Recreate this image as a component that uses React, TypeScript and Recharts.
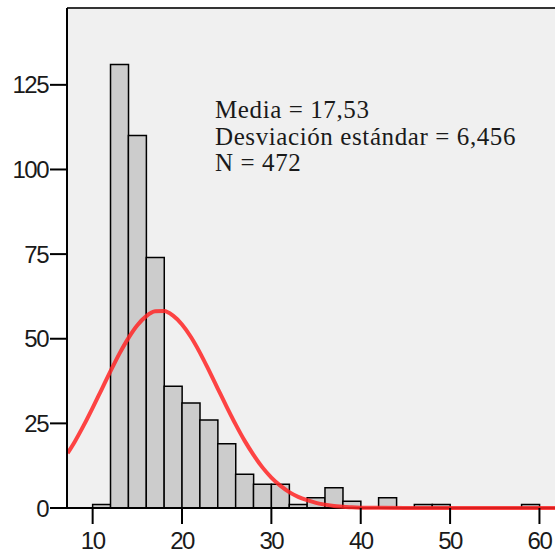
import React from "react";
import {
  Bar,
  CartesianGrid,
  ComposedChart,
  Line,
  ReferenceLine,
  XAxis,
  YAxis,
} from "recharts";

// Histogram bins (width 2): bin centre and count.
const BIN_MID = [11, 13, 15, 17, 19, 21, 23, 25, 27, 29, 31, 33, 35, 37, 39, 41, 43, 45, 47, 49, 51, 53, 55, 57, 59];
const BIN_COUNT = [1, 131, 110, 74, 36, 31, 26, 19, 10, 7, 7, 1, 3, 6, 2, 0, 3, 0, 1, 1, 0, 0, 0, 0, 1];

// Red normal curve.
const CURVE_X = [7.2, 8, 9, 10, 11, 12, 13, 14, 15, 16, 17, 18, 19, 20, 21, 22, 23, 24, 25, 26, 27, 28, 29, 30, 31, 32, 33, 34, 35, 36, 37, 38, 39, 40, 42, 45, 50, 55, 60, 67];
const CURVE_Y = [16.2, 19.6, 24.4, 29.6, 35.0, 40.4, 45.6, 50.2, 54.0, 56.7, 58.1, 58.2, 56.8, 54.2, 50.5, 45.9, 40.7, 35.3, 29.9, 24.7, 19.9, 15.7, 12.0, 9.0, 6.6, 4.7, 3.3, 2.3, 1.5, 1.0, 0.6, 0.4, 0.2, 0.1, 0.04, 0.01, 0, 0, 0, 0];

const X_TICKS = [10, 20, 30, 40, 50, 60];
const Y_TICKS = [0, 25, 50, 75, 100, 125];
const STATS = ["Media = 17,53", "Desviación estándar = 6,456", "N = 472"];

const X_DOMAIN: [number, number] = [7.13, 67];
const Y_MAX = 147.7;

const bins = BIN_MID.map((mid, i) => ({ mid, count: BIN_COUNT[i] }));
const curve = CURVE_X.map((x, i) => ({ x, y: CURVE_Y[i] }));

const tickFont = {
  fill: "#1a1a1a",
  fontSize: 24,
  letterSpacing: -1.5,
  fontFamily: '"Liberation Sans", Arial, sans-serif',
};

export default function App() {
  return (
    <div
      style={{
        position: "fixed",
        left: 0,
        top: 0,
        width: 555,
        height: 559,
        overflow: "hidden",
        background: "#fff",
      }}
    >
      <ComposedChart
        width={602}
        height={559}
        data={bins}
        margin={{ top: 8, right: 0, left: 0, bottom: 0 }}
        barCategoryGap={0}
        barGap={0}
      >
        <CartesianGrid fill="#f0f0f0" horizontal={false} vertical={false} />
        <XAxis
          xAxisId="bins"
          type="number"
          dataKey="mid"
          domain={X_DOMAIN}
          ticks={X_TICKS}
          height={51}
          tickSize={16}
          tickMargin={8}
          tick={tickFont}
          axisLine={false}
          tickLine={{ stroke: "#000", strokeWidth: 2 }}
        />
        <XAxis
          xAxisId="curve"
          type="number"
          dataKey="x"
          domain={X_DOMAIN}
          hide
        />
        <YAxis
          type="number"
          domain={[0, Y_MAX]}
          ticks={Y_TICKS}
          width={67}
          tickSize={17}
          tickMargin={2}
          tick={tickFont}
          axisLine={{ stroke: "#000", strokeWidth: 2 }}
          tickLine={{ stroke: "#000", strokeWidth: 2 }}
        />
        <ReferenceLine y={Y_MAX} xAxisId="bins" stroke="#333" strokeWidth={2} />
        <Bar
          xAxisId="bins"
          dataKey="count"
          fill="#cccccc"
          stroke="#000"
          strokeWidth={1.5}
          isAnimationActive={false}
        />
        <ReferenceLine y={0} xAxisId="bins" stroke="#000" strokeWidth={2} />
        <Line
          xAxisId="curve"
          data={curve}
          dataKey="y"
          type="monotone"
          stroke="#ff2424"
          strokeOpacity={0.85}
          strokeWidth={4}
          dot={false}
          activeDot={false}
          isAnimationActive={false}
        />
      </ComposedChart>
      <div
        style={{
          position: "absolute",
          left: 215,
          top: 97,
          fontFamily: '"Liberation Serif", "Times New Roman", serif',
          fontSize: 25,
          lineHeight: "26.5px",
          letterSpacing: 0.6,
          color: "#1a1a1a",
          whiteSpace: "nowrap",
        }}
      >
        {STATS.map((s) => (
          <div key={s}>{s}</div>
        ))}
      </div>
    </div>
  );
}
